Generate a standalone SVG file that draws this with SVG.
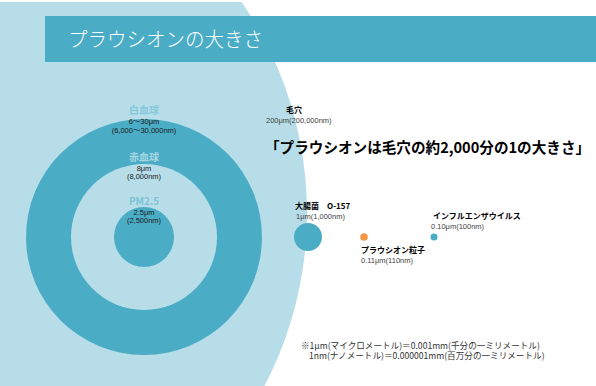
<svg xmlns="http://www.w3.org/2000/svg" width="596" height="386" viewBox="0 0 596 386">
<defs>
<clipPath id="pg"><rect x="0" y="2" width="596" height="384"/></clipPath>
<style>
text{font-family:"Noto Sans CJK JP","Noto Sans",sans-serif;}
.dark{fill:#4bacc6;}
.light{fill:#b7dee8;}
.c{text-anchor:middle;}
.lbl{font-size:10px;font-weight:bold;}
.v{font-size:7.5px;fill:#1a1a1a;font-family:"Liberation Sans","Noto Sans CJK JP",sans-serif;}
.n{font-size:8px;font-weight:bold;fill:#000;}
.s{font-size:7.5px;fill:#404040;font-family:"Liberation Sans","Noto Sans CJK JP",sans-serif;}
.note{font-size:8.6px;fill:#333;}
</style>
</defs>
<rect width="596" height="386" fill="#fff"/>
<g id="background" clip-path="url(#pg)">
<circle class="light" cx="-66" cy="213" r="373"/>
</g>
<g id="title">
<rect class="dark" x="45" y="16" width="551" height="46"/>
<text x="68" y="47" font-size="20" font-weight="300" fill="#fff" textLength="195" lengthAdjust="spacingAndGlyphs">プラウシオンの大きさ</text>
</g>
<g id="rings">
<circle class="dark" cx="144" cy="237" r="118"/>
<circle class="light" cx="144" cy="237" r="73"/>
<circle class="dark" cx="144" cy="237" r="30"/>
</g>
<g id="wbc">
<text class="c lbl" x="144" y="114" fill="#86c7da">白血球</text>
<text class="c v" x="144" y="123.5">6～30μm</text>
<text class="c v" x="144" y="132.5">(6,000～30,000nm)</text>
</g>
<g id="rbc">
<text class="c lbl" x="144" y="161" fill="#a8d7e4">赤血球</text>
<text class="c v" x="144" y="170.5">8μm</text>
<text class="c v" x="144" y="179">(8,000nm)</text>
</g>
<g id="pm25">
<text class="c lbl" x="144" y="205" fill="#7cc3d6">PM2.5</text>
<text class="c v" x="144" y="214.5">2.5μm</text>
<text class="c v" x="144" y="223">(2,500nm)</text>
</g>
<g id="pore">
<text class="n" x="286" y="113">毛穴</text>
<text class="s" x="266" y="123" fill="#1a1a1a">200μm(200,000nm)</text>
</g>
<g id="statement">
<text x="265" y="153" font-size="14.6" font-weight="bold" fill="#000">「プラウシオンは毛穴の約2,000分の1の大きさ」</text>
</g>
<g id="ecoli">
<text class="n" x="295" y="209">大腸菌　O-157</text>
<text class="s" x="296" y="218.5">1μm(1,000nm)</text>
<circle class="dark" cx="308" cy="237" r="14"/>
</g>
<g id="plausion">
<circle cx="364" cy="237" r="3.8" fill="#f79646"/>
<text class="n" x="361" y="253">プラウシオン粒子</text>
<text class="s" x="361" y="262.5">0.11μm(110nm)</text>
</g>
<g id="influenza">
<circle class="dark" cx="434" cy="237" r="3.5"/>
<text class="n" x="433" y="219">インフルエンザウイルス</text>
<text class="s" x="431" y="228.5">0.10μm(100nm)</text>
</g>
<g id="footnote">
<text class="note"><tspan x="301" y="349">※1μm(マイクロメートル)＝0.001mm(千分の一ミリメートル)</tspan><tspan x="309" y="359">1nm(ナノメートル)＝0.000001mm(百万分の一ミリメートル)</tspan></text>
</g>
</svg>
